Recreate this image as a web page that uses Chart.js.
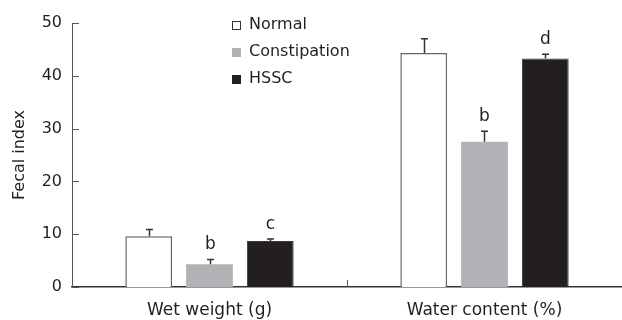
<!DOCTYPE html>
<html>
<head>
<meta charset="utf-8">
<script src="https://cdn.jsdelivr.net/npm/chart.js@4.4.1/dist/chart.umd.min.js"></script>
<style>
  html, body { margin: 0; padding: 0; background: #fff; }
  #wrap { width: 622px; height: 320px; }
</style>
</head>
<body>
<div id="wrap"><canvas id="fecalChart"></canvas></div>
<script>
var categories = ['Wet weight (g)', 'Water content (%)'];
var seriesNames = ['Normal', 'Constipation', 'HSSC'];
var normalValues = [9.6, 44.3];
var constipationValues = [4.3, 27.5];
var hsscValues = [8.7, 43.3];
var normalErrors = [1.3, 2.7];
var constipationErrors = [0.9, 2.0];
var hsscErrors = [0.4, 0.8];
var normalLetters = ['', ''];
var constipationLetters = ['b', 'b'];
var hsscLetters = ['c', 'd'];
var yTicks = [0, 10, 20, 30, 40, 50];

var textColor = '#231f20';
var axisColor = '#555555';
var font = 'DejaVu Sans';

var errors = [normalErrors, constipationErrors, hsscErrors];
var letters = [normalLetters, constipationLetters, hsscLetters];
var fills = ['#ffffff', '#b1b2b5', '#231f20'];
var borders = ['#666666', '#b1b2b5', '#3a3a3a'];

// error bars, significance letters, inward ticks and the legend
var extras = {
  id: 'extras',
  afterDatasetsDraw: function (chart) {
    var ctx = chart.ctx;
    var y = chart.scales.y;
    var x = chart.scales.x;
    ctx.save();
    chart.data.datasets.forEach(function (ds, i) {
      var meta = chart.getDatasetMeta(i);
      meta.data.forEach(function (bar, j) {
        var top = y.getPixelForValue(ds.data[j] + errors[i][j]);
        var cx = Math.round(bar.x) + 0.5;
        ctx.strokeStyle = '#333333';
        ctx.lineWidth = 1.5;
        ctx.beginPath();
        ctx.moveTo(cx, bar.y);
        ctx.lineTo(cx, top);
        ctx.moveTo(cx - 3.5, top);
        ctx.lineTo(cx + 3.5, top);
        ctx.stroke();
        if (letters[i][j]) {
          ctx.fillStyle = textColor;
          ctx.font = '17px "' + font + '"';
          ctx.textAlign = 'center';
          ctx.textBaseline = 'bottom';
          ctx.fillText(letters[i][j], cx, top - 6);
        }
      });
    });
    // y ticks pointing into the plot
    ctx.strokeStyle = axisColor;
    ctx.lineWidth = 1;
    yTicks.forEach(function (v) {
      var py = Math.round(y.getPixelForValue(v)) + 0.5;
      ctx.beginPath();
      ctx.moveTo(x.left, py);
      ctx.lineTo(x.left + 7, py);
      ctx.stroke();
    });
    // tick between the two groups
    var mid = Math.round((x.getPixelForValue(0) + x.getPixelForValue(1)) / 2) + 0.5;
    ctx.beginPath();
    ctx.moveTo(mid, y.bottom);
    ctx.lineTo(mid, y.bottom - 7);
    ctx.stroke();
    // legend
    var lx = 232, ly = 25;
    seriesNames.forEach(function (name, i) {
      var cy = ly + i * 27;
      ctx.fillStyle = fills[i];
      ctx.fillRect(lx, cy - 4, 9, 9);
      ctx.strokeStyle = i === 0 ? '#333333' : fills[i];
      ctx.lineWidth = 1;
      ctx.strokeRect(lx + 0.5, cy - 3.5, 8, 8);
      ctx.fillStyle = textColor;
      ctx.font = '16px "' + font + '"';
      ctx.textAlign = 'left';
      ctx.textBaseline = 'middle';
      ctx.fillText(name, lx + 17, cy);
    });
    ctx.restore();
  }
};

new Chart(document.getElementById('fecalChart'), {
  type: 'bar',
  data: {
    labels: categories,
    datasets: [
      { label: seriesNames[0], data: normalValues, backgroundColor: fills[0], borderColor: borders[0], borderWidth: 1.5 },
      { label: seriesNames[1], data: constipationValues, backgroundColor: fills[1], borderColor: borders[1], borderWidth: 0 },
      { label: seriesNames[2], data: hsscValues, backgroundColor: fills[2], borderColor: borders[2], borderWidth: 1 }
    ]
  },
  options: {
    responsive: true,
    maintainAspectRatio: false,
    animation: false,
    devicePixelRatio: 1,
    layout: { padding: { top: 23, right: 0, left: 10, bottom: 0 } },
    datasets: { bar: { categoryPercentage: 0.663, barPercentage: 0.77 } },
    plugins: { legend: { display: false }, tooltip: { enabled: false } },
    scales: {
      x: {
        grid: { display: false, drawTicks: false },
        border: { display: true, color: '#333333', width: 1.5 },
        ticks: { color: textColor, font: { family: font, size: 17 }, padding: 13 },
        afterFit: function (s) { s.height = 33; }
      },
      y: {
        min: 0,
        max: 50,
        grid: { display: false, drawTicks: false },
        border: { display: true, color: axisColor, width: 1 },
        ticks: { stepSize: 10, color: textColor, font: { family: font, size: 16 }, padding: 10 },
        title: { display: true, text: 'Fecal index', color: textColor, font: { family: font, size: 16 }, padding: 0 },
        afterFit: function (s) { s.width = 62; }
      }
    }
  },
  plugins: [extras]
});
</script>
</body>
</html>
